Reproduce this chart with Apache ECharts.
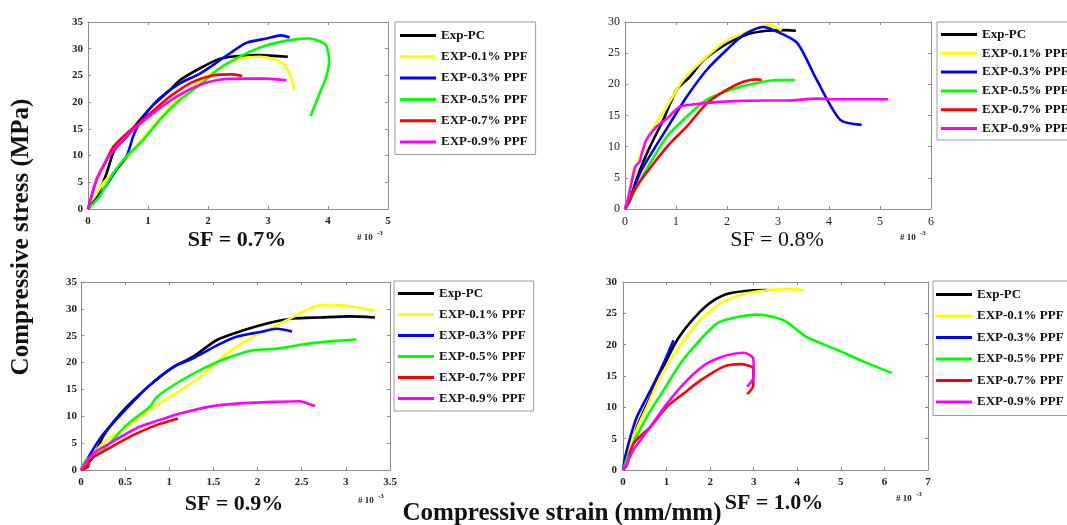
<!DOCTYPE html>
<html>
<head>
<meta charset="utf-8">
<script src="https://cdn.jsdelivr.net/npm/echarts@6/dist/echarts.min.js"></script>
<style>
  html, body { margin: 0; padding: 0; background: #fff; }
  #chart { width: 1067px; height: 525px; }
</style>
</head>
<body>
<div id="chart"></div>
<script>
// Stress-strain curves, strain in units of 1e-3 (mm/mm), stress in MPa.
const seriesNames = ['Exp-PC', 'EXP-0.1% PPF', 'EXP-0.3% PPF', 'EXP-0.5% PPF', 'EXP-0.7% PPF', 'EXP-0.9% PPF'];
const seriesColors = ['#000000', '#ffff00', '#0000ff', '#00ff00', '#ff0000', '#ff00ff'];
const panelTitles = ['SF = 0.7%', 'SF = 0.8%', 'SF = 0.9%', 'SF = 1.0%'];

// SF = 0.7%
const sf07_pc  = [[0,0],[0.19,3.5],[0.31,6.7],[0.44,11],[0.64,13.5],[0.86,16.6],[1.08,19.4],[1.36,22.2],[1.53,24.1],[1.86,26.3],[2.19,28.1],[2.47,28.6],[2.86,28.8],[3.33,28.5]];
const sf07_p01 = [[0,0],[0.25,4.8],[0.53,7.9],[0.75,11],[1.08,15.4],[1.42,19.7],[1.75,22.9],[2.14,26],[2.47,28],[2.86,28.5],[3.08,28.1],[3.25,27.2],[3.36,25.3],[3.44,22.2]];
const sf07_p03 = [[0,0],[0.08,1.1],[0.25,3.5],[0.33,4.8],[0.47,7.3],[0.64,9.8],[0.75,13.5],[0.81,15.1],[0.97,17.9],[1.19,20.7],[1.53,23.5],[1.86,25.3],[2.08,26.9],[2.36,29.1],[2.64,31.1],[2.97,31.9],[3.22,32.5],[3.36,32.1]];
const sf07_p05 = [[0,0],[0.19,2.3],[0.42,6.7],[0.64,9.8],[0.92,12.9],[1.19,16.6],[1.53,20.4],[1.86,23.2],[2.19,26.3],[2.58,28.8],[2.97,30.6],[3.42,31.7],[3.69,31.9],[3.86,31.4],[3.97,30.6],[4.02,27.8],[3.97,24.7],[3.86,21.6],[3.71,17.4]];
const sf07_p07 = [[0,0],[0.14,5.4],[0.28,8.5],[0.42,11.6],[0.64,14.1],[0.97,17.2],[1.36,21],[1.75,23.8],[2.08,25],[2.42,25.2],[2.57,24.9]];
const sf07_p09 = [[0,0],[0.14,5.4],[0.31,9.2],[0.47,11.6],[0.75,14.8],[1.08,17.9],[1.47,21],[1.86,23.2],[2.19,24.2],[2.64,24.4],[2.97,24.4],[3.31,24.1]];

// SF = 0.8%
const sf08_pc  = [[0,0],[0.13,2.5],[0.29,6.2],[0.49,10],[0.75,14.3],[1.01,19.1],[1.27,21.2],[1.54,23.9],[1.99,26.5],[2.39,28],[2.78,28.6],[3.17,28.7],[3.35,28.6]];
const sf08_p01 = [[0,0],[0.1,3],[0.29,8.4],[0.49,12.1],[0.82,16.4],[1.14,20.7],[1.6,24.4],[1.99,27],[2.39,28.4],[2.71,29.4],[2.88,29.5],[3.01,28.9],[3.07,28.7]];
const sf08_p03 = [[0,0],[0.1,1.4],[0.29,5.7],[0.56,9.5],[0.88,13.7],[1.21,18],[1.6,22.3],[1.99,25.5],[2.32,27.9],[2.71,29.2],[2.91,28.7],[3.37,26.7],[3.76,20.7],[4.22,14.3],[4.64,13.5]];
const sf08_p05 = [[0,0],[0.23,3.6],[0.49,7.3],[0.82,11.6],[1.21,14.8],[1.6,17.5],[2.06,19.1],[2.52,20.1],[2.97,20.7],[3.33,20.7]];
const sf08_p07 = [[0,0],[0.23,3.6],[0.56,7.3],[0.88,10.5],[1.21,13.2],[1.6,16.9],[1.99,19.1],[2.32,20.4],[2.58,20.8],[2.68,20.7]];
const sf08_p09 = [[0,0],[0.07,2],[0.2,6.8],[0.29,7.6],[0.33,8.9],[0.42,11.1],[0.62,13.2],[0.82,14.5],[1.08,16.4],[1.47,16.9],[2.12,17.3],[2.78,17.4],[3.17,17.4],[3.76,17.7],[4.22,17.6],[5.16,17.6]];

// SF = 0.9%
const sf09_pc  = [[0,0],[0.14,2.5],[0.25,6.2],[0.37,9],[0.52,11.8],[0.78,15.8],[1.05,19.2],[1.27,21.1],[1.54,24.2],[1.84,26],[2.14,27.4],[2.4,28.2],[2.71,28.4],[3.05,28.6],[3.33,28.4]];
const sf09_p01 = [[0,0],[0.25,5],[0.52,8.1],[0.78,11.2],[1.08,14.3],[1.35,17.3],[1.61,21.1],[1.88,24.2],[2.18,26.6],[2.44,28.8],[2.71,30.7],[2.86,30.7],[3.05,30.5],[3.33,29.7]];
const sf09_p03 = [[0,0],[0.23,6.2],[0.52,11.5],[0.78,15.8],[1.05,19.2],[1.27,20.8],[1.54,23.2],[1.76,24.8],[2.03,25.7],[2.22,26.3],[2.39,25.8]];
const sf09_p05 = [[0,0],[0.06,1.9],[0.25,3.7],[0.52,8.4],[0.78,11.8],[0.86,13.6],[1.08,16.1],[1.35,18.6],[1.65,20.8],[1.95,22.3],[2.22,22.6],[2.56,23.5],[2.86,24],[3.12,24.3]];
const sf09_p07 = [[0,0],[0.08,0.6],[0.1,1.9],[0.25,3.4],[0.52,5.9],[0.67,7.1],[0.86,8.4],[1.1,9.6]];
const sf09_p09 = [[0,0],[0.14,3.1],[0.33,5],[0.52,6.8],[0.67,8.1],[0.89,9.3],[1.12,10.5],[1.46,11.8],[1.8,12.4],[2.22,12.7],[2.48,12.8],[2.57,12.4],[2.65,11.9]];

// SF = 1.0%
const sf10_pc  = [[0,0],[0.21,4.2],[0.32,6.9],[0.63,11.7],[0.93,16.5],[1.24,20.7],[1.55,23.6],[1.93,26.3],[2.35,28],[2.85,28.6],[3.31,28.7]];
const sf10_p01 = [[0,0],[0.24,5.3],[0.55,10.1],[0.86,14.9],[1.24,19.1],[1.7,23.4],[2.23,26.6],[2.77,28.1],[3.23,28.6],[3.76,28.9],[4.15,28.7]];
const sf10_p03 = [[0,0],[0.05,2.1],[0.17,5.3],[0.32,8.5],[0.63,12.7],[0.93,17],[1.16,20.7]];
const sf10_p05 = [[0,0],[0.17,3.2],[0.55,8.5],[0.93,12.7],[1.32,17],[1.7,20.2],[2.16,23.4],[2.62,24.4],[3.08,24.8],[3.46,24.4],[3.76,23.6],[4.22,21.2],[4.84,19.4],[5.52,17.3],[6.17,15.5]];
const sf10_p07 = [[0,0],[0.09,0.8],[0.24,4.2],[0.63,6.9],[1.01,10.1],[1.39,12.2],[1.78,14.3],[2.31,16.5],[2.69,16.9],[2.99,16.2],[2.99,13.5],[2.85,12.1]];
const sf10_p09 = [[0,0],[0.09,1.1],[0.24,3.2],[0.63,6.9],[1.01,10.6],[1.47,14.3],[1.93,17],[2.39,18.3],[2.77,18.7],[2.99,17.8],[3.0,14.9],[2.85,13.3]];

// Axis extents per panel
const xMax = [5, 6, 3.5, 7];
const xStep = [1, 1, 0.5, 1];
const yMax = [35, 30, 35, 30];
const yStep = [5, 5, 5, 5];

const panelData = [
  [sf07_pc, sf07_p01, sf07_p03, sf07_p05, sf07_p07, sf07_p09],
  [sf08_pc, sf08_p01, sf08_p03, sf08_p05, sf08_p07, sf08_p09],
  [sf09_pc, sf09_p01, sf09_p03, sf09_p05, sf09_p07, sf09_p09],
  [sf10_pc, sf10_p01, sf10_p03, sf10_p05, sf10_p07, sf10_p09]
];

// Layout of the four plot boxes
const grids = [
  { left: 88,  top: 22,  width: 300, height: 187 },
  { left: 625, top: 22,  width: 306, height: 187 },
  { left: 81,  top: 282, width: 309, height: 188 },
  { left: 623, top: 282, width: 305, height: 188 }
];
const labelBold = ['bold', 'normal', 'bold', 'bold'];
const labelSize = [11, 12, 11, 11];
const yLabelMargin = [5, 5, 4, 6];
const legendBoxes = [
  { left: 395, top: 22,  padding: [7, 8, 6, 5], itemGap: 8.3 },
  { left: 937, top: 22,  padding: [6, 8, 5, 4], itemGap: 5.8 },
  { left: 394, top: 281, padding: [6, 8, 6, 4], itemGap: 8 },
  { left: 933, top: 281, padding: [7, 8, 7, 3], itemGap: 8.5 }
];
const titlePos = [[237, 240], [777, 240], [234, 504], [774, 503]];
const expPos = [[357, 238], [900, 238], [358, 501], [896, 499]];

const serif = '"Liberation Serif", "Times New Roman", serif';
const frameColor = '#8c8c8c';

const xAxes = [], yAxes = [], series = [], legends = [], graphics = [];

grids.forEach((g, i) => {
  const fw = labelBold[i];
  xAxes.push({
    type: 'value', gridIndex: i, min: 0, max: xMax[i], interval: xStep[i],
    axisLine: { show: true, onZero: false, lineStyle: { color: frameColor, width: 1 } },
    axisTick: { show: true, inside: true, length: 3, lineStyle: { color: frameColor } },
    axisLabel: { color: '#222', fontFamily: serif, fontSize: labelSize[i], fontWeight: fw, margin: 7, showMaxLabel: true, showMinLabel: true },
    splitLine: { show: false }
  });
  xAxes.push({
    type: 'value', gridIndex: i, position: 'top', min: 0, max: xMax[i], interval: xStep[i],
    axisLine: { show: true, onZero: false, lineStyle: { color: frameColor, width: 1 } },
    axisTick: { show: true, inside: true, length: 3, lineStyle: { color: frameColor } },
    axisLabel: { show: false }, splitLine: { show: false }
  });
  yAxes.push({
    type: 'value', gridIndex: i, min: 0, max: yMax[i], interval: yStep[i],
    axisLine: { show: true, onZero: false, lineStyle: { color: frameColor, width: 1 } },
    axisTick: { show: true, inside: true, length: 3, lineStyle: { color: frameColor } },
    axisLabel: { color: '#222', fontFamily: serif, fontSize: labelSize[i], fontWeight: fw, margin: yLabelMargin[i] },
    splitLine: { show: false }
  });
  yAxes.push({
    type: 'value', gridIndex: i, position: 'right', min: 0, max: yMax[i], interval: yStep[i],
    axisLine: { show: true, onZero: false, lineStyle: { color: frameColor, width: 1 } },
    axisTick: { show: true, inside: true, length: 3, lineStyle: { color: frameColor } },
    axisLabel: { show: false }, splitLine: { show: false }
  });

  panelData[i].forEach((data, k) => {
    series.push({
      name: seriesNames[k], type: 'line', data: data,
      xAxisIndex: i * 2, yAxisIndex: i * 2,
      showSymbol: false, smooth: 0.25, clip: false,
      lineStyle: { color: seriesColors[k], width: 2.6 },
      itemStyle: { color: seriesColors[k] },
      z: 2 + k
    });
  });

  const lb = legendBoxes[i];
  legends.push({
    data: seriesNames, orient: 'vertical', left: lb.left, top: lb.top,
    padding: lb.padding, itemGap: lb.itemGap, itemWidth: 36, itemHeight: 3,
    icon: 'rect', borderColor: '#9a9a9a', borderWidth: 1, backgroundColor: '#fff',
    textStyle: { color: '#111', fontFamily: serif, fontWeight: 'bold', fontSize: 13, lineHeight: 13 },
    itemStyle: { borderWidth: 0 }
  });

  graphics.push({
    type: 'text', x: titlePos[i][0], y: titlePos[i][1],
    style: { text: panelTitles[i], fill: '#111', font: (i === 1 ? 'normal ' : 'bold ') + '22px ' + serif, textAlign: 'center', textVerticalAlign: 'middle' }
  });
  graphics.push({
    type: 'text', x: expPos[i][0], y: expPos[i][1],
    style: { text: '# 10', fill: '#222', font: 'bold 9px ' + serif, textAlign: 'left', textVerticalAlign: 'middle' }
  });
  graphics.push({
    type: 'text', x: expPos[i][0] + 20, y: expPos[i][1] - 5,
    style: { text: '-3', fill: '#222', font: 'bold 7px ' + serif, textAlign: 'left', textVerticalAlign: 'middle' }
  });
});

// Shared axis titles
graphics.push({
  type: 'text', x: 22, y: 237, rotation: Math.PI / 2,
  style: { text: 'Compressive stress (MPa)', fill: '#111', font: 'bold 25px ' + serif, textAlign: 'center', textVerticalAlign: 'middle' }
});
graphics.push({
  type: 'text', x: 562, y: 514,
  style: { text: 'Compressive strain (mm/mm)', fill: '#111', font: 'bold 25px ' + serif, textAlign: 'center', textVerticalAlign: 'middle' }
});

const chart = echarts.init(document.getElementById('chart'), null, { renderer: 'canvas' });
chart.setOption({
  animation: false,
  backgroundColor: '#fff',
  grid: grids.map(g => Object.assign({ containLabel: false }, g)),
  xAxis: xAxes,
  yAxis: yAxes,
  legend: legends,
  series: series,
  graphic: graphics
});
</script>
</body>
</html>
